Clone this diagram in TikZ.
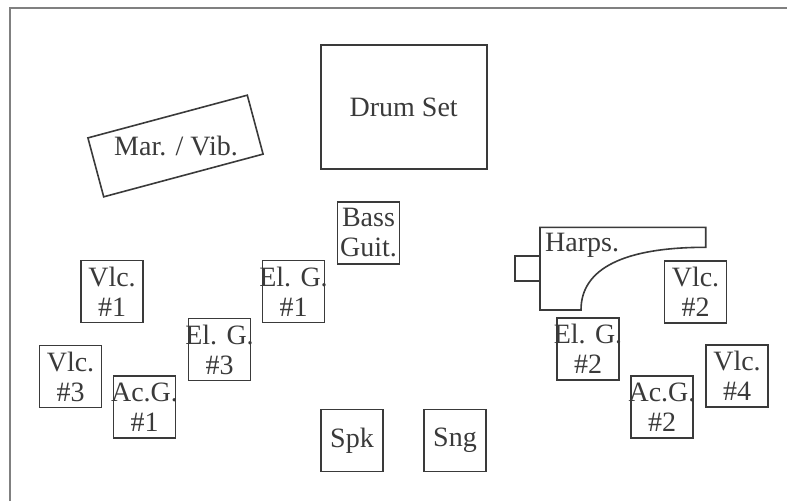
\documentclass[tikz,border=0pt]{standalone}
\usepackage{fontspec}
\setmainfont{Liberation Serif}
\definecolor{ink}{HTML}{3A3A3A}
\definecolor{framegray}{HTML}{808080}
\tikzset{
  lbl/.style={font=\fontsize{28}{30}\selectfont, text=ink, align=center, inner sep=0pt},
  sqbox/.style={draw=ink, line width=1.6pt, minimum width=62pt, minimum height=62pt, inner sep=0pt,
    label={[lbl]center:#1}},
  shapeline/.style={draw=ink, line width=1.6pt},
}
\begin{document}
\begin{tikzpicture}[x=1pt, y=-1pt]
\useasboundingbox (0,0) rectangle (787,501);
% frame (top and left visible)
\draw[framegray, line width=2.5pt] (10,501) -- (10,8) -- (787,8);

% Drum set
\node[lbl, draw=ink, line width=1.6pt, minimum width=166pt, minimum height=124pt] (drum) at (403.7,107) {Drum Set};

% Marimba / Vibraphone (tilted box, horizontal text)
\node[draw=ink, line width=1.6pt, minimum width=165pt, minimum height=61pt, rotate=15, inner sep=0pt] (marbox) at (175.5,146) {};
\node[lbl] (mar) at (176,146) {Mar. / Vib.};

% square boxes
\node[sqbox={Bass\\Guit.}] (bass) at (368.5,233) {};
\node[sqbox={El. G.\\\#1}] (elg1) at (293.5,291.5) {};
\node[sqbox={El. G.\\\#3}] (elg3) at (219.5,349.5) {};
\node[sqbox={Vlc.\\\#1}] (vlc1) at (112,291.5) {};
\node[sqbox={Vlc.\\\#3}] (vlc3) at (70.5,376.5) {};
\node[sqbox={Ac.G.\\\#1}] (acg1) at (144.5,407) {};
\node[sqbox={Spk}] (spk) at (352,440.5) {};
\node[sqbox={Sng}] (sng) at (455,440.5) {};
\node[sqbox={El. G.\\\#2}] (elg2) at (588,349) {};
\node[sqbox={Ac.G.\\\#2}] (acg2) at (662,407) {};
\node[sqbox={Vlc.\\\#4}] (vlc4) at (737,376) {};
\node[sqbox={Vlc.\\\#2}] (vlc2) at (695.5,292) {};

% Harp
\draw[shapeline] (540,227.3) -- (705.7,227.3) -- (705.7,247.3)
  .. controls (625,247.3) and (581,268) .. (581,310) -- (540,310) -- cycle;
\draw[shapeline] (540,255.7) -- (515,255.7) -- (515,281) -- (540,281);
\node[lbl, anchor=base west] (harps) at (545,251.7) {Harps.};
\end{tikzpicture}
\end{document}
